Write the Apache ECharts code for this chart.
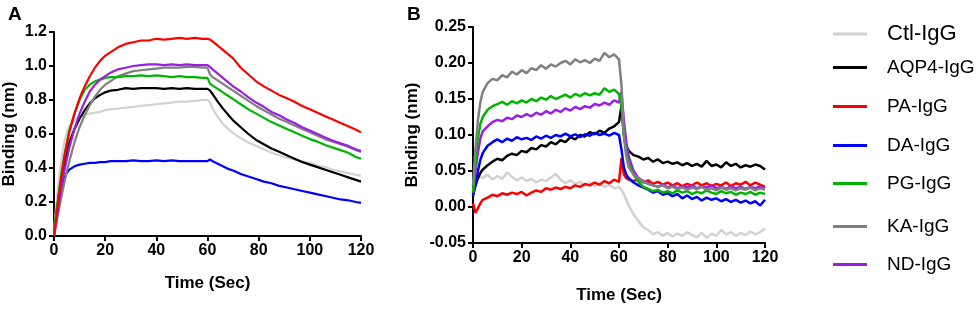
<!DOCTYPE html>
<html>
<head>
<meta charset="utf-8">
<script src="https://cdn.jsdelivr.net/npm/echarts@6/dist/echarts.min.js"></script>
<style>
html,body{margin:0;padding:0;background:#fff;}
#chart{width:980px;height:311px;}
</style>
</head>
<body>
<div id="chart"></div>
<script>
var names = ['Ctl-IgG','AQP4-IgG','PA-IgG','DA-IgG','PG-IgG','KA-IgG','ND-IgG'];
var colors = ['#d2d2d2','#000000','#ff0000','#0000ff','#00b400','#808080','#9b1fe0'];

// panel A
var timeA = [0,1,2,3,4,5,6,8,10,12,14,16,18,20,22,25,28,31,34,37,40,43,46,49,52,55,58,60,61,62,64,66,68,70,73,76,79,82,85,88,91,94,97,100,103,106,109,112,115,118,120];
var ctlA  = [0.03,0.2,0.35,0.46,0.55,0.61,0.65,0.68,0.70,0.71,0.72,0.725,0.73,0.74,0.745,0.75,0.755,0.76,0.765,0.77,0.775,0.78,0.785,0.79,0.79,0.795,0.8,0.8,0.785,0.75,0.70,0.66,0.63,0.605,0.575,0.55,0.53,0.51,0.49,0.475,0.46,0.45,0.44,0.43,0.415,0.405,0.39,0.38,0.37,0.36,0.355];
var aqp4A = [0.02,0.14,0.25,0.34,0.42,0.49,0.55,0.63,0.69,0.74,0.78,0.81,0.83,0.845,0.855,0.86,0.87,0.865,0.87,0.87,0.87,0.865,0.87,0.865,0.87,0.865,0.865,0.865,0.855,0.835,0.79,0.75,0.715,0.68,0.64,0.6,0.565,0.54,0.515,0.495,0.475,0.455,0.435,0.42,0.405,0.39,0.375,0.36,0.345,0.33,0.32];
var paA   = [0,0.12,0.25,0.36,0.46,0.54,0.61,0.72,0.81,0.88,0.94,0.99,1.03,1.06,1.08,1.11,1.13,1.14,1.15,1.15,1.16,1.155,1.16,1.165,1.16,1.165,1.16,1.16,1.155,1.145,1.12,1.095,1.07,1.045,0.99,0.95,0.91,0.88,0.855,0.83,0.81,0.79,0.765,0.745,0.725,0.705,0.685,0.665,0.645,0.625,0.61];
var daA   = [0,0.12,0.22,0.29,0.34,0.37,0.39,0.41,0.42,0.425,0.43,0.43,0.435,0.435,0.44,0.44,0.44,0.445,0.44,0.44,0.445,0.44,0.445,0.44,0.44,0.44,0.44,0.44,0.45,0.44,0.425,0.41,0.395,0.385,0.365,0.35,0.335,0.32,0.31,0.295,0.285,0.275,0.265,0.255,0.245,0.235,0.225,0.215,0.21,0.2,0.195];
var pgA   = [0.03,0.15,0.27,0.38,0.47,0.55,0.62,0.72,0.8,0.86,0.89,0.91,0.92,0.93,0.935,0.935,0.94,0.94,0.945,0.94,0.945,0.94,0.935,0.94,0.935,0.935,0.93,0.93,0.895,0.885,0.865,0.845,0.825,0.805,0.775,0.745,0.72,0.695,0.67,0.65,0.63,0.61,0.59,0.57,0.555,0.535,0.52,0.505,0.49,0.465,0.455];
var kaA   = [0,0.08,0.16,0.24,0.31,0.38,0.44,0.55,0.64,0.71,0.77,0.82,0.86,0.89,0.91,0.94,0.955,0.97,0.975,0.98,0.985,0.99,0.99,0.99,0.995,0.995,0.99,0.99,0.95,0.935,0.915,0.895,0.875,0.855,0.825,0.795,0.765,0.74,0.715,0.69,0.67,0.65,0.63,0.61,0.59,0.57,0.555,0.54,0.525,0.505,0.495];
var ndA   = [0,0.1,0.2,0.3,0.38,0.45,0.52,0.63,0.72,0.79,0.85,0.89,0.92,0.94,0.96,0.98,0.99,1.0,1.005,1.01,1.01,1.005,1.01,1.005,1.01,1.005,1.005,1.005,0.995,0.98,0.955,0.93,0.905,0.88,0.85,0.815,0.785,0.76,0.73,0.71,0.685,0.665,0.64,0.62,0.6,0.58,0.56,0.545,0.53,0.51,0.5];

// panel B
var timeB = [0,1,2,3,4,6,8,10,12,14,16,18,20,22,24,26,28,30,32,34,36,38,40,42,44,46,48,50,52,54,56,58,60,61,62,63,64,66,68,70,72,74,76,78,80,82,84,86,88,90,92,94,96,98,100,102,104,106,108,110,112,114,116,118,120];
var ctlB  = [0.02,0.03,0.038,0.042,0.04,0.045,0.038,0.043,0.039,0.048,0.042,0.037,0.041,0.036,0.039,0.034,0.038,0.036,0.041,0.046,0.038,0.033,0.037,0.032,0.035,0.03,0.034,0.029,0.032,0.028,0.031,0.026,0.028,0.024,0.018,0.01,0.002,-0.01,-0.02,-0.028,-0.032,-0.038,-0.035,-0.04,-0.036,-0.041,-0.037,-0.04,-0.035,-0.039,-0.042,-0.036,-0.043,-0.037,-0.04,-0.032,-0.038,-0.035,-0.04,-0.036,-0.039,-0.034,-0.038,-0.035,-0.03];
var aqp4B = [0.02,0.03,0.04,0.047,0.052,0.058,0.063,0.067,0.065,0.071,0.074,0.072,0.078,0.076,0.082,0.08,0.086,0.084,0.09,0.087,0.093,0.09,0.097,0.094,0.1,0.098,0.104,0.101,0.106,0.103,0.109,0.112,0.118,0.14,0.1,0.085,0.078,0.072,0.07,0.066,0.068,0.063,0.066,0.061,0.063,0.06,0.062,0.058,0.061,0.057,0.06,0.056,0.064,0.057,0.059,0.055,0.062,0.057,0.06,0.055,0.058,0.056,0.059,0.057,0.052];
var paB   = [0.005,-0.008,-0.002,0.005,0.01,0.013,0.017,0.015,0.019,0.017,0.02,0.018,0.021,0.016,0.02,0.023,0.021,0.026,0.024,0.027,0.025,0.028,0.026,0.03,0.028,0.032,0.03,0.034,0.031,0.036,0.033,0.038,0.035,0.068,0.045,0.04,0.038,0.036,0.039,0.034,0.037,0.032,0.035,0.031,0.034,0.03,0.033,0.029,0.032,0.03,0.034,0.03,0.033,0.029,0.032,0.03,0.034,0.029,0.033,0.031,0.035,0.03,0.034,0.031,0.028];
var daB   = [0.015,0.03,0.05,0.065,0.075,0.085,0.09,0.094,0.09,0.095,0.092,0.097,0.094,0.096,0.093,0.098,0.095,0.099,0.096,0.1,0.098,0.102,0.098,0.101,0.097,0.101,0.099,0.103,0.1,0.102,0.099,0.103,0.1,0.08,0.055,0.045,0.04,0.034,0.03,0.027,0.024,0.02,0.022,0.017,0.019,0.015,0.018,0.012,0.016,0.011,0.014,0.009,0.013,0.01,0.012,0.008,0.011,0.007,0.01,0.006,0.009,0.005,0.008,0.002,0.01];
var pgB   = [0.02,0.06,0.095,0.115,0.125,0.135,0.14,0.143,0.146,0.142,0.147,0.144,0.148,0.145,0.15,0.147,0.152,0.149,0.154,0.15,0.153,0.156,0.152,0.157,0.154,0.158,0.155,0.158,0.156,0.165,0.16,0.163,0.157,0.14,0.1,0.075,0.06,0.045,0.035,0.028,0.025,0.022,0.024,0.02,0.022,0.019,0.023,0.02,0.022,0.018,0.021,0.019,0.023,0.02,0.018,0.022,0.019,0.021,0.017,0.02,0.018,0.021,0.017,0.02,0.018];
var kaB   = [0.03,0.08,0.12,0.145,0.16,0.172,0.178,0.176,0.183,0.18,0.188,0.184,0.19,0.186,0.193,0.19,0.197,0.192,0.198,0.195,0.2,0.203,0.198,0.205,0.201,0.204,0.2,0.206,0.203,0.214,0.208,0.212,0.205,0.17,0.1,0.07,0.055,0.045,0.04,0.035,0.032,0.03,0.028,0.03,0.026,0.028,0.025,0.027,0.024,0.027,0.025,0.028,0.024,0.026,0.023,0.027,0.024,0.026,0.023,0.026,0.024,0.027,0.023,0.026,0.024];
var ndB   = [0.02,0.05,0.075,0.095,0.105,0.112,0.118,0.121,0.119,0.124,0.122,0.127,0.125,0.129,0.126,0.131,0.128,0.133,0.13,0.135,0.132,0.137,0.134,0.139,0.136,0.14,0.138,0.143,0.141,0.145,0.142,0.148,0.145,0.16,0.12,0.09,0.07,0.05,0.04,0.036,0.033,0.03,0.028,0.031,0.027,0.03,0.026,0.029,0.027,0.03,0.026,0.029,0.027,0.03,0.026,0.028,0.025,0.029,0.026,0.028,0.025,0.028,0.026,0.029,0.026];

var seriesA = [ctlA, aqp4A, paA, daA, pgA, kaA, ndA];
var seriesB = [ctlB, aqp4B, paB, daB, pgB, kaB, ndB];
var orderA = [0,1,3,5,4,6,2];
var orderB = [0,2,1,3,6,4,5];
var legendY = [34,69,108,147,185,228,266];

function pairs(t, v){
	var out = [];
	for (var i = 0; i < t.length; i++) out.push([t[i], v[i]]);
	return out;
}

function makeAxisX(idx, size, gap){
	return {
		type: 'value', gridIndex: idx, min: 0, max: 120, interval: 20,
		name: 'Time (Sec)', nameLocation: 'middle', nameGap: gap,
		nameTextStyle: {fontFamily: 'Liberation Sans', fontWeight: 'bold', fontSize: 17, color: '#000'},
		axisLine: {show: true, onZero: false, lineStyle: {color: '#000', width: 2}},
		axisTick: {show: true, length: 5, lineStyle: {color: '#000', width: 2}},
		axisLabel: {fontFamily: 'Liberation Sans', fontWeight: 'bold', fontSize: size, color: '#000', margin: 7},
		splitLine: {show: false}
	};
}

function makeAxisY(idx, min, max, step, digits, size, gap){
	return {
		type: 'value', gridIndex: idx, min: min, max: max, interval: step,
		name: 'Binding (nm)', nameLocation: 'middle', nameGap: gap,
		nameTextStyle: {fontFamily: 'Liberation Sans', fontWeight: 'bold', fontSize: 17, color: '#000'},
		axisLine: {show: true, onZero: false, lineStyle: {color: '#000', width: 2}},
		axisTick: {show: true, length: 5, lineStyle: {color: '#000', width: 2}},
		axisLabel: {fontFamily: 'Liberation Sans', fontWeight: 'bold', fontSize: size, color: '#000', margin: 7,
			formatter: function(v){ return v.toFixed(digits); }},
		splitLine: {show: false}
	};
}

function drawChart(){
	var chart = echarts.init(document.getElementById('chart'));
	var series = [];
	orderA.forEach(function(i){
		series.push({name: names[i], type: 'line', xAxisIndex: 0, yAxisIndex: 0,
			data: pairs(timeA, seriesA[i]), showSymbol: false, symbol: 'none',
			lineStyle: {color: colors[i], width: 2.2}, itemStyle: {color: colors[i]}});
	});
	orderB.forEach(function(i){
		series.push({name: names[i], type: 'line', xAxisIndex: 1, yAxisIndex: 1,
			data: pairs(timeB, seriesB[i]), showSymbol: false, symbol: 'none',
			lineStyle: {color: colors[i], width: 2.5}, itemStyle: {color: colors[i]}});
	});

	var legends = names.map(function(n, i){
		return {
			data: [{name: n, icon: 'rect', itemStyle: {color: colors[i]}}],
			left: 833, top: legendY[i] - 11, padding: 0, orient: 'vertical',
			itemWidth: 34, itemHeight: 3, selectedMode: false,
			textStyle: {fontFamily: 'Liberation Sans', fontSize: i === 0 ? 22 : 19, color: '#000', padding: [0,0,0,15]}
		};
	});

	var option = {
		animation: false,
		backgroundColor: '#fff',
		title: [
			{text: 'A', left: 3, top: 0, textStyle: {fontFamily: 'Liberation Sans', fontWeight: 'bold', fontSize: 19, color: '#000'}},
			{text: 'B', left: 402, top: 0, textStyle: {fontFamily: 'Liberation Sans', fontWeight: 'bold', fontSize: 19, color: '#000'}}
		],
		legend: legends,
		grid: [
			{left: 54, top: 32, width: 307, height: 204},
			{left: 473, top: 27, width: 292, height: 216}
		],
		xAxis: [makeAxisX(0, 16, 39), makeAxisX(1, 16, 44)],
		yAxis: [makeAxisY(0, 0, 1.2, 0.2, 1, 16, 36), makeAxisY(1, -0.05, 0.25, 0.05, 2, 16, 52)],
		series: series
	};
	chart.setOption(option);
}

drawChart();
</script>
</body>
</html>
